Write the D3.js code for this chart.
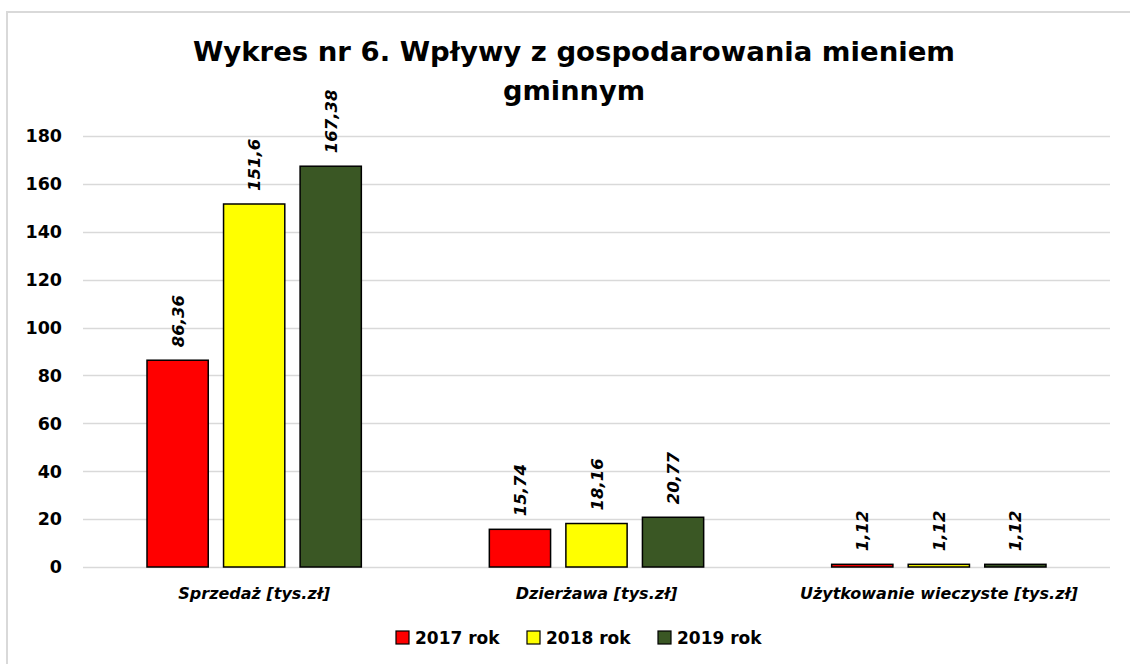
<!DOCTYPE html>
<html>
<head>
<meta charset="utf-8">
<script src="https://cdn.jsdelivr.net/npm/d3@7"></script>
<style>
  html, body { margin: 0; padding: 0; background: #fff; }
  svg { display: block; }
</style>
</head>
<body>
<svg id="chart" width="1130" height="664"></svg>
<script>
const titleLines = ["Wykres nr 6. Wpływy z gospodarowania mieniem", "gminnym"];
const categories = ["Sprzedaż [tys.zł]", "Dzierżawa [tys.zł]", "Użytkowanie wieczyste [tys.zł]"];
const seriesNames = ["2017 rok", "2018 rok", "2019 rok"];
const values2017 = [86.36, 15.74, 1.12];
const values2018 = [151.6, 18.16, 1.12];
const values2019 = [167.38, 20.77, 1.12];
const labels2017 = ["86,36", "15,74", "1,12"];
const labels2018 = ["151,6", "18,16", "1,12"];
const labels2019 = ["167,38", "20,77", "1,12"];
const yTicks = [0, 20, 40, 60, 80, 100, 120, 140, 160, 180];
const colors = ["#ff0000", "#ffff00", "#3a5724"];

const seriesValues = [values2017, values2018, values2019];
const seriesLabels = [labels2017, labels2018, labels2019];

const svg = d3.select("#chart");
const font = "'DejaVu Sans', Verdana, sans-serif";

// frame
svg.append("path")
  .attr("d", "M7,700 L7,12 L1140,12")
  .attr("fill", "none").attr("stroke", "#d9d9d9").attr("stroke-width", 2);

const plotLeft = 83, plotRight = 1110, plotTop = 136, plotBottom = 567;
const y = d3.scaleLinear().domain([0, 180]).range([plotBottom, plotTop]);
const x0 = d3.scaleBand().domain(categories).range([plotLeft, plotRight]).padding(0);
const x1 = d3.scaleBand().domain(seriesNames).range([64, x0.bandwidth() - 64]).paddingInner(0.2);

// gridlines
svg.append("g").selectAll("line").data(yTicks).join("line")
  .attr("x1", plotLeft).attr("x2", plotRight)
  .attr("y1", d => Math.round(y(d)) + 0.5).attr("y2", d => Math.round(y(d)) + 0.5)
  .attr("stroke", "#d9d9d9").attr("stroke-width", 1.3);

// y tick labels
svg.append("g").selectAll("text").data(yTicks).join("text")
  .attr("x", 62).attr("y", d => y(d))
  .attr("dy", "0.36em")
  .attr("text-anchor", "end")
  .attr("font-family", font).attr("font-weight", "bold").attr("font-size", 17.5)
  .attr("fill", "#000")
  .text(d => d);

// bars
const flat = [];
categories.forEach((c, ci) => {
  seriesNames.forEach((s, si) => {
    flat.push({cat: c, ser: s, si, v: seriesValues[si][ci], label: seriesLabels[si][ci]});
  });
});

svg.append("g").selectAll("rect").data(flat).join("rect")
  .attr("x", d => x0(d.cat) + x1(d.ser))
  .attr("y", d => y(d.v))
  .attr("width", x1.bandwidth())
  .attr("height", d => y(0) - y(d.v))
  .attr("fill", d => colors[d.si])
  .attr("stroke", "#000").attr("stroke-width", 1.5);

// value labels (rotated)
svg.append("g").selectAll("text").data(flat).join("text")
  .attr("transform", d => {
    const cx = x0(d.cat) + x1(d.ser) + x1.bandwidth() / 2 + 6;
    const cy = y(d.v) - 13;
    return `translate(${cx},${cy}) rotate(-90)`;
  })
  .attr("text-anchor", "start")
  .attr("font-family", font).attr("font-weight", "bold").attr("font-style", "italic")
  .attr("font-size", 16.5)
  .attr("fill", "#000")
  .text(d => d.label);

// category labels
svg.append("g").selectAll("text").data(categories).join("text")
  .attr("x", d => x0(d) + x0.bandwidth() / 2)
  .attr("y", 599)
  .attr("text-anchor", "middle")
  .attr("font-family", font).attr("font-style", "italic").attr("font-weight", "bold")
  .attr("font-size", 16)
  .attr("fill", "#000")
  .text(d => d);

// title
svg.append("g").selectAll("text").data(titleLines).join("text")
  .attr("x", 574)
  .attr("y", (d, i) => 61 + i * 38.5)
  .attr("text-anchor", "middle")
  .attr("font-family", font).attr("font-weight", "bold")
  .attr("font-size", 27)
  .attr("fill", "#000")
  .attr("textLength", (d, i) => i === 0 ? 762 : 142)
  .attr("lengthAdjust", "spacingAndGlyphs")
  .text(d => d);

// legend
const legendX = [396, 527, 658];
const lg = svg.append("g").selectAll("g").data(seriesNames).join("g")
  .attr("transform", (d, i) => `translate(${legendX[i]},631)`);
lg.append("rect").attr("width", 13).attr("height", 13)
  .attr("fill", (d, i) => colors[i]).attr("stroke", "#000").attr("stroke-width", 1.2);
lg.append("text").attr("x", 19).attr("y", 13)
  .attr("font-family", font).attr("font-weight", "bold").attr("font-size", 17)
  .attr("fill", "#000")
  .text(d => d);
</script>
</body>
</html>
